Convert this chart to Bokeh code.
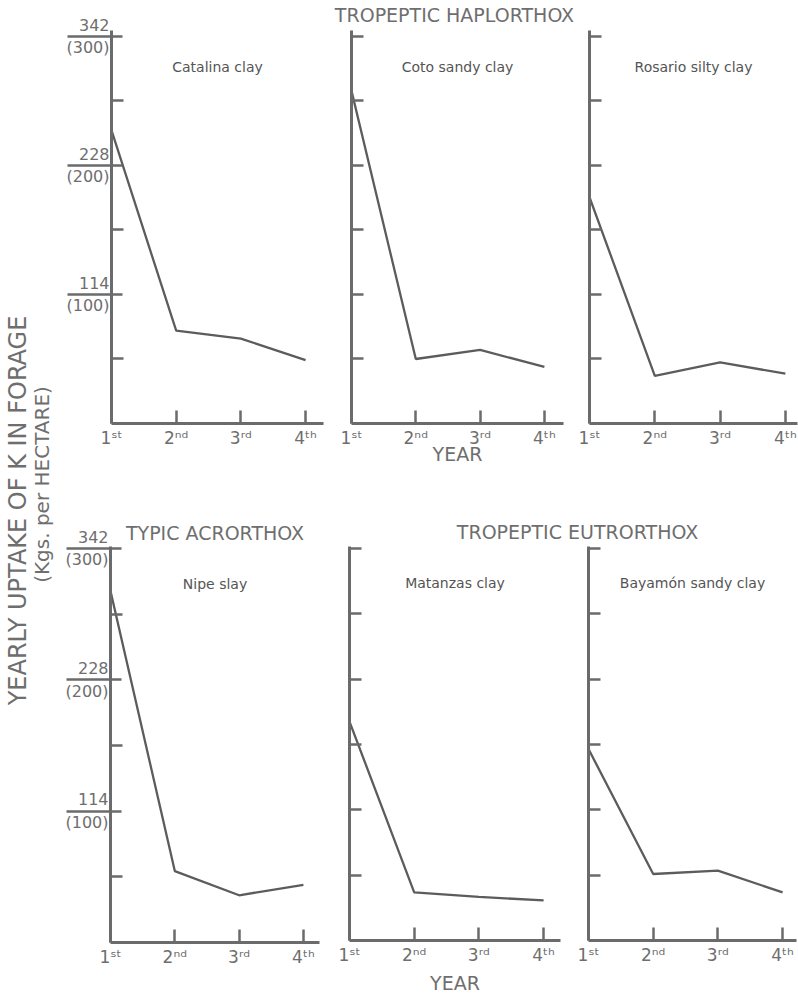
import math
from bokeh.plotting import figure
from bokeh.layouts import row, column
from bokeh.models import Range1d, FixedTicker, Label
from bokeh.embed import file_html
from bokeh.resources import INLINE

# ---------------- data ----------------
years = [1, 2, 3, 4]
year_labels = ["1ˢᵗ", "2ⁿᵈ", "3ʳᵈ", "4ᵗʰ"]

y_ticks_all = [57, 114, 171, 228, 285, 342]
y_ticks_labelled = [114, 228, 342]
y_ticks_unlabelled = [57, 171, 285]
y_tick_labels = ["114\n(100)", "228\n(200)", "342\n(300)"]

group_titles = ["TROPEPTIC HAPLORTHOX", "TYPIC ACRORTHOX", "TROPEPTIC EUTRORTHOX"]
soil_names = ["Catalina clay", "Coto sandy clay", "Rosario silty clay",
              "Nipe slay", "Matanzas clay", "Bayamón sandy clay"]

catalina = [259, 82, 75, 56]
coto = [294, 57, 65, 50]
rosario = [200, 42, 54, 44]
nipe = [305, 62, 41, 50]
matanzas = [191, 42, 38, 35]
bayamon = [167, 58, 61, 42]

y_title = "YEARLY UPTAKE OF K IN FORAGE"
y_subtitle = "(Kgs. per HECTARE)"
x_title = "YEAR"

# ---------------- style ----------------
FONT = "DejaVu Sans"
AXIS_C = "#6b6b6b"
TEXT_C = "#6e6e6e"
SUB_C = "#555555"
LINE_C = "#5c5c5c"


def blank(width, height):
    p = figure(width=width, height=height, x_range=Range1d(0, width), y_range=Range1d(0, height),
               toolbar_location=None, output_backend="svg", title=None,
               x_axis_type=None, y_axis_type=None,
               min_border_left=0, min_border_right=0, min_border_top=0, min_border_bottom=0)
    p.outline_line_color = None
    p.xgrid.visible = False
    p.ygrid.visible = False
    p.background_fill_color = "white"
    p.border_fill_color = "white"
    return p


def panel(values, name, width, height, bl, bt, fw, fh, x_end, y_end, sub_y,
          labelled=False, xlabel=None, xlabel_standoff=0, title=None, title_offset=0):
    p = figure(width=width, height=height, x_range=Range1d(1, x_end), y_range=Range1d(0, y_end),
               toolbar_location=None, output_backend="svg", title=title,
               min_border_left=bl, min_border_right=width - bl - fw,
               min_border_top=bt, min_border_bottom=height - bt - fh)
    p.outline_line_color = None
    p.xgrid.visible = False
    p.ygrid.visible = False
    p.background_fill_color = "white"
    p.border_fill_color = "white"

    if title is not None:
        p.title.align = "center"
        p.title.offset = title_offset
        p.title.text_font = FONT
        p.title.text_font_size = "19px"
        p.title.text_font_style = "normal"
        p.title.text_color = TEXT_C
        p.title.standoff = 5

    xa = p.xaxis[0]
    xa.ticker = FixedTicker(ticks=years, minor_ticks=[])
    xa.major_label_overrides = dict(zip(years, year_labels))
    xa.major_tick_in = 13
    xa.major_tick_out = 0
    xa.major_tick_line_width = 2.5
    xa.major_tick_line_color = AXIS_C
    xa.axis_line_width = 3
    xa.axis_line_color = AXIS_C
    xa.major_label_text_font = FONT
    xa.major_label_text_font_size = "17px"
    xa.major_label_text_color = TEXT_C
    xa.major_label_standoff = 4
    if xlabel:
        xa.axis_label = xlabel
        xa.axis_label_text_font = FONT
        xa.axis_label_text_font_size = "19px"
        xa.axis_label_text_font_style = "normal"
        xa.axis_label_text_color = TEXT_C
        xa.axis_label_standoff = xlabel_standoff

    ya = p.yaxis[0]
    ya.axis_line_width = 3
    ya.axis_line_color = AXIS_C
    ya.major_tick_line_width = 2.5
    ya.major_tick_line_color = AXIS_C
    ya.minor_tick_line_width = 2.5
    ya.minor_tick_line_color = AXIS_C
    if labelled:
        ya.ticker = FixedTicker(ticks=y_ticks_labelled, minor_ticks=y_ticks_unlabelled)
        ya.major_label_overrides = dict(zip(y_ticks_labelled, y_tick_labels))
        ya.major_tick_in = 11
        ya.major_tick_out = 44
        ya.minor_tick_in = 12
        ya.minor_tick_out = 0
        ya.major_label_standoff = -42
        ya.major_label_text_font = FONT
        ya.major_label_text_font_size = "16px"
        ya.major_label_text_color = TEXT_C
    else:
        ya.ticker = FixedTicker(ticks=y_ticks_all, minor_ticks=[])
        ya.major_label_overrides = {t: "" for t in y_ticks_all}
        ya.major_tick_in = 12
        ya.major_tick_out = 0
        ya.minor_tick_in = 0
        ya.minor_tick_out = 0

    p.line(years, values, line_width=2.3, line_color=LINE_C)

    p.add_layout(Label(x=(1 + x_end) / 2, y=sub_y, text=name, text_align="center",
                       text_baseline="middle", text_font=FONT, text_font_size="14px",
                       text_color=SUB_C))
    return p


# ---------------- top row ----------------
TOP_YEND = 347.3
TOP_PX = 393 / TOP_YEND
BOT_YEND = 343.7
BOT_PX = 396 / BOT_YEND

p1 = panel(catalina, soil_names[0], 271, 480, 56, 30, 212, 393, 4.277, TOP_YEND,
           TOP_YEND - 36 / TOP_PX, labelled=True)
p2 = panel(coto, soil_names[1], 241, 456, 25, 6, 212, 393, 4.297, TOP_YEND,
           TOP_YEND - 36 / TOP_PX, xlabel=x_title, xlabel_standoff=-8)
p3 = panel(rosario, soil_names[2], 231, 456, 22, 6, 208, 393, 4.185, TOP_YEND,
           TOP_YEND - 36 / TOP_PX)

strip_top = blank(472, 24)
strip_top.add_layout(Label(x=128, y=10, text=group_titles[0], text_align="center",
                           text_baseline="middle", text_font=FONT, text_font_size="19px",
                           text_color=TEXT_C))

# ---------------- bottom row ----------------
p4 = panel(nipe, soil_names[3], 271, 516, 55, 66, 209, 396, 4.25, BOT_YEND,
           BOT_YEND - 37 / BOT_PX, labelled=True, title=group_titles[1], title_offset=10)
p5 = panel(matanzas, soil_names[4], 240, 453, 23, 3, 211, 396, 4.261, BOT_YEND,
           BOT_YEND - 37 / BOT_PX, xlabel=x_title, xlabel_standoff=4)
p6 = panel(bayamon, soil_names[5], 232, 453, 22, 3, 208, 396, 4.215, BOT_YEND,
           BOT_YEND - 37 / BOT_PX)

strip_bot = blank(472, 63)
strip_bot.add_layout(Label(x=251, y=12, text=group_titles[2], text_align="center",
                           text_baseline="middle", text_font=FONT, text_font_size="19px",
                           text_color=TEXT_C))

# ---------------- y label ----------------
ylab = blank(55, 996)
ylab.add_layout(Label(x=17, y=996 - 510, text=y_title, angle=math.pi / 2, text_align="center",
                      text_baseline="middle", text_font=FONT, text_font_size="24px",
                      text_color=TEXT_C))
ylab.add_layout(Label(x=41, y=996 - 484, text=y_subtitle, angle=math.pi / 2, text_align="center",
                      text_baseline="middle", text_font=FONT, text_font_size="20px",
                      text_color=TEXT_C))

top_block = row(p1, column(strip_top, row(p2, p3)))
bot_block = row(p4, column(strip_bot, row(p5, p6)))
layout = row(ylab, column(top_block, bot_block))

open("out.html", "w").write(file_html(layout, INLINE))
